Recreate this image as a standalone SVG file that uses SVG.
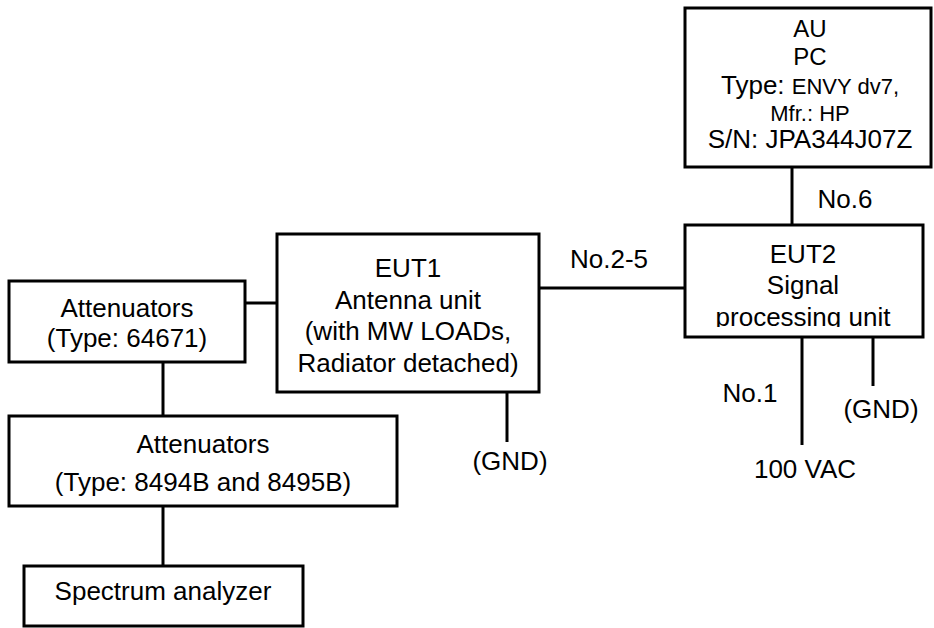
<svg xmlns="http://www.w3.org/2000/svg" width="934" height="628" viewBox="0 0 934 628">
<style>
.box{fill:#fff;stroke:#000;stroke-width:3}
.ln{stroke:#000;stroke-width:3;fill:none}
text{font-family:"Liberation Sans",Arial,sans-serif;font-size:26px;fill:#000}
.c{text-anchor:middle}
.s{font-size:22px}
.m{font-size:24px}
</style>
<defs>
<clipPath id="eut2clip"><rect x="686" y="227" width="235" height="100"/></clipPath>
</defs>
<rect width="934" height="628" fill="#fff"/>
<g id="connectors">
<line class="ln" x1="792" y1="167" x2="792" y2="225"/>
<line class="ln" x1="538" y1="288" x2="685" y2="288"/>
<line class="ln" x1="245" y1="303" x2="277" y2="303"/>
<line class="ln" x1="163" y1="362" x2="163" y2="416"/>
<line class="ln" x1="163" y1="506" x2="163" y2="566"/>
<line class="ln" x1="507" y1="392" x2="507" y2="442"/>
<line class="ln" x1="802" y1="337" x2="802" y2="445"/>
<line class="ln" x1="873" y1="337" x2="873" y2="386"/>
<text x="845" y="208" class="c">No.6</text>
<text x="609" y="268" class="c">No.2-5</text>
<text x="750" y="402" class="c">No.1</text>
<text x="510" y="470" class="c">(GND)</text>
<text x="881" y="418" class="c">(GND)</text>
<text x="805" y="478" class="c">100 VAC</text>
</g>
<g id="au">
<rect class="box" x="685" y="8" width="246" height="159"/>
<text class="c m" x="810" y="37">AU</text>
<text class="c m" x="810" y="65">PC</text>
<text class="c" x="810" y="94">Type: <tspan class="s">ENVY dv7,</tspan></text>
<text class="c s" x="810" y="121">Mfr.: HP</text>
<text class="c" x="810" y="148">S/N: JPA344J07Z</text>
</g>
<g id="eut2">
<rect class="box" x="685" y="225" width="238" height="112"/>
<g clip-path="url(#eut2clip)">
<text class="c" x="803" y="263">EUT2</text>
<text class="c" x="803" y="294">Signal</text>
<text class="c" x="803" y="326">processing unit</text>
</g>
</g>
<g id="eut1">
<rect class="box" x="277" y="234" width="262" height="158"/>
<text class="c" x="408" y="277">EUT1</text>
<text class="c" x="408" y="309">Antenna unit</text>
<text class="c" x="408" y="340">(with MW LOADs,</text>
<text class="c" x="408" y="372">Radiator detached)</text>
</g>
<g id="att1">
<rect class="box" x="9" y="281" width="236" height="81"/>
<text class="c" x="127" y="317">Attenuators</text>
<text class="c" x="127" y="347">(Type: 64671)</text>
</g>
<g id="att2">
<rect class="box" x="9" y="416" width="388" height="90"/>
<text class="c" x="203" y="453">Attenuators</text>
<text class="c" x="203" y="491">(Type: 8494B and 8495B)</text>
</g>
<g id="sa">
<rect class="box" x="24" y="566" width="279" height="60"/>
<text class="c" x="163" y="600">Spectrum analyzer</text>
</g>
</svg>
